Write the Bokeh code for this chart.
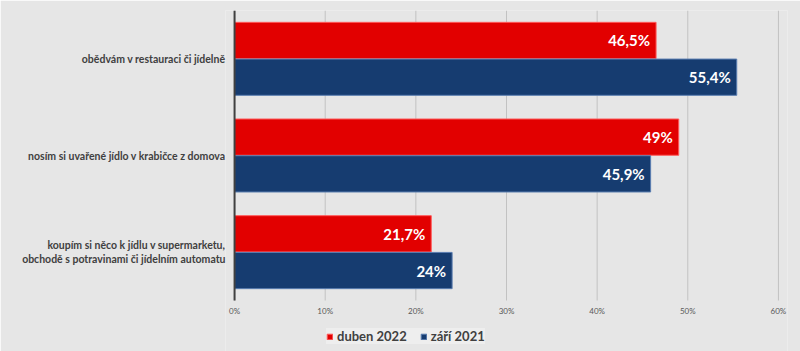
from bokeh.plotting import figure
from bokeh.models import ColumnDataSource, Legend, LegendItem, FixedTicker, Range1d
from bokeh.core.properties import value
from bokeh.embed import file_html
from bokeh.resources import INLINE

categories = [
    "obědvám v restauraci či jídelně",
    "nosím si uvařené jídlo v krabičce z domova",
    "koupím si něco k jídlu v supermarketu,\nobchodě s potravinami či jídelním automatu",
]
series_names = ["duben 2022", "září 2021"]
duben_2022 = [46.5, 49.0, 21.7]
zari_2021 = [55.4, 45.9, 24.0]
x_ticks = [0, 10, 20, 30, 40, 50, 60]
x_tick_labels = ["0%", "10%", "20%", "30%", "40%", "50%", "60%"]

FONT = "Lato"
RED = "#e20000"
BLUE = "#163c70"
BG = "#e6e6e6"

n = len(categories)
centers = [n - i - 0.5 for i in range(n)]
bar_h = 0.375
off = 0.19

def fmt(v):
    return f"{v:g}".replace(".", ",") + "%"

src_red = ColumnDataSource(dict(y=[c + off for c in centers], v=duben_2022,
                                lab=[fmt(v) for v in duben_2022]))
src_blue = ColumnDataSource(dict(y=[c - off for c in centers], v=zari_2021,
                                 lab=[fmt(v) for v in zari_2021]))
src_ticks = ColumnDataSource(dict(x=x_ticks, lab=x_tick_labels,
                                  y0=[0] * len(x_ticks), y1=[n] * len(x_ticks)))

# frame spans 290 px for n categories; extend below 0 to reach canvas bottom
px_per_unit = 290 / n
y_bottom = -(351 - 10 - 290) / px_per_unit

p = figure(width=800, height=351, output_backend="svg", toolbar_location=None,
           x_range=Range1d(-1, 61), y_range=Range1d(y_bottom, n),
           x_axis_location=None,
           min_border_left=225, min_border_right=13, min_border_top=10,
           min_border_bottom=0)
p.border_fill_color = BG
p.background_fill_color = BG
p.outline_line_color = None
p.grid.visible = False

# vertical grid lines
p.segment(x0="x", x1="x", y0="y0", y1="y1", source=src_ticks,
          line_color="#c2c2c2", line_width=1)

r1 = p.hbar(y="y", right="v", left=0, height=bar_h, source=src_red,
            fill_color=RED, line_color="#ff5a5a", line_width=1)
r2 = p.hbar(y="y", right="v", left=0, height=bar_h, source=src_blue,
            fill_color=BLUE, line_color="#5a7db0", line_width=1)

# category axis line
p.segment(x0=[0], x1=[0], y0=[0], y1=[n], line_color="#404040", line_width=2)

for src in (src_red, src_blue):
    p.text(x="v", y="y", text="lab", source=src, x_offset=-6,
           text_align="right", text_baseline="middle",
           text_color="white", text_font=value(FONT),
           text_font_style="bold", text_font_size="15px")

# x tick labels
p.text(x="x", y="y0", text="lab", source=src_ticks, y_offset=10,
       text_align="center", text_baseline="middle",
       text_color="#595959", text_font=value(FONT), text_font_size="8px")

p.yaxis.ticker = FixedTicker(ticks=centers)
p.yaxis.major_label_overrides = {c: l for c, l in zip(centers, categories)}
p.yaxis.axis_line_color = None
p.yaxis.major_tick_line_color = None
p.yaxis.major_tick_out = 0
p.yaxis.minor_tick_line_color = None
p.yaxis.major_label_text_font = FONT
p.yaxis.major_label_text_font_style = "bold"
p.yaxis.major_label_text_font_size = "10.5px"
p.yaxis.major_label_text_color = "#404040"
p.yaxis.major_label_standoff = 0

legend = Legend(items=[LegendItem(label=series_names[0], renderers=[r1]),
                       LegendItem(label=series_names[1], renderers=[r2])],
                orientation="horizontal", location=(101, 7),
                label_text_font=FONT, label_text_font_style="bold",
                label_text_font_size="13px", label_text_color="#404040",
                label_height=14, glyph_width=7, glyph_height=7, spacing=13,
                padding=3, margin=0, label_standoff=4,
                background_fill_color="#eeeeee", background_fill_alpha=1,
                border_line_color=None)
p.add_layout(legend, "center")

open("out.html", "w").write(file_html(p, INLINE))
